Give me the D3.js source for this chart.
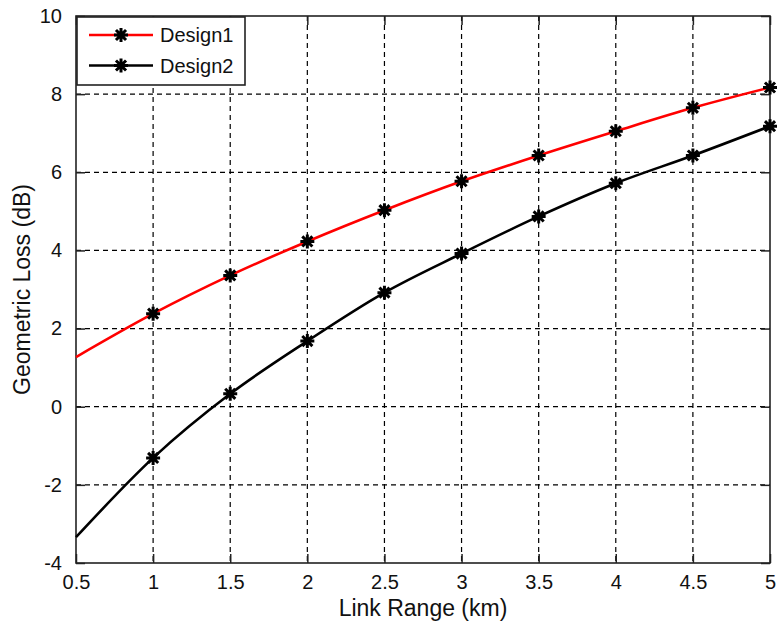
<!DOCTYPE html>
<html>
<head>
<meta charset="utf-8">
<script src="https://cdn.jsdelivr.net/npm/d3@7"></script>
<style>
  html, body { margin: 0; padding: 0; background: #fff; }
  svg { display: block; font-family: "Liberation Sans", Arial, sans-serif; }
</style>
</head>
<body>
<svg id="chart" width="777" height="630"></svg>
<script>
// ---- data ----
const linkRange = [0.5, 1, 1.5, 2, 2.5, 3, 3.5, 4, 4.5, 5];
const design1 = [1.27, 2.38, 3.36, 4.23, 5.03, 5.77, 6.43, 7.05, 7.65, 8.17];
const design2 = [-3.34, -1.31, 0.33, 1.68, 2.92, 3.92, 4.87, 5.72, 6.43, 7.18];
const markerX = [1, 1.5, 2, 2.5, 3, 3.5, 4, 4.5, 5];
const seriesNames = ["Design1", "Design2"];
const xTicks = [0.5, 1, 1.5, 2, 2.5, 3, 3.5, 4, 4.5, 5];
const yTicks = [-4, -2, 0, 2, 4, 6, 8, 10];
const xLabel = "Link Range (km)";
const yLabel = "Geometric Loss (dB)";

const colors = ["#ff0000", "#000000"];
const svg = d3.select("#chart");
const L = 76, R = 770, T = 16, B = 563;
const x = d3.scaleLinear().domain([0.5, 5]).range([L, R]);
const y = d3.scaleLinear().domain([-4, 10]).range([B, T]);

// grid
const g = svg.append("g");
g.selectAll(".vg").data(xTicks.slice(1, -1)).join("line")
  .attr("x1", d => x(d)).attr("x2", d => x(d)).attr("y1", T).attr("y2", B)
  .attr("stroke", "#000").attr("stroke-width", 1.2).attr("stroke-dasharray", "5,4");
g.selectAll(".hg").data(yTicks.slice(1, -1)).join("line")
  .attr("y1", d => y(d)).attr("y2", d => y(d)).attr("x1", L).attr("x2", R)
  .attr("stroke", "#000").attr("stroke-width", 1.2).attr("stroke-dasharray", "5,4");

// axes (ticks inward)
const tick = 9;
const fmt = d => String(d);
svg.append("g").attr("transform", `translate(0,${B})`)
  .call(d3.axisBottom(x).tickValues(xTicks).tickSize(-tick).tickPadding(12).tickFormat(fmt))
  .call(a => a.select(".domain").remove());
svg.append("g").attr("transform", `translate(0,${T})`)
  .call(d3.axisTop(x).tickValues(xTicks).tickSize(-tick).tickFormat(""))
  .call(a => a.select(".domain").remove());
svg.append("g").attr("transform", `translate(${L},0)`)
  .call(d3.axisLeft(y).tickValues(yTicks).tickSize(-tick).tickPadding(14).tickFormat(fmt))
  .call(a => a.select(".domain").remove());
svg.append("g").attr("transform", `translate(${R},0)`)
  .call(d3.axisRight(y).tickValues(yTicks).tickSize(-tick).tickFormat(""))
  .call(a => a.select(".domain").remove());
svg.selectAll(".tick line").attr("stroke", "#222").attr("stroke-width", 1.5);
svg.selectAll(".tick text").attr("font-size", 20).attr("fill", "#111")
  .attr("font-family", "'Liberation Sans', Arial, sans-serif");

// frame
svg.append("rect").attr("x", L).attr("y", T).attr("width", R - L).attr("height", B - T)
  .attr("fill", "none").attr("stroke", "#222").attr("stroke-width", 1.6);

// lines
const line = d3.line().x((d, i) => x(linkRange[i])).y(d => y(d)).curve(d3.curveMonotoneX);
const allSeries = [design1, design2];
const starPath = s => `M${-s},0L${s},0M0,${-s}L0,${s}M${-s*0.72},${-s*0.72}L${s*0.72},${s*0.72}M${-s*0.72},${s*0.72}L${s*0.72},${-s*0.72}`;

allSeries.forEach((vals, k) => {
  svg.append("path").attr("d", line(vals)).attr("fill", "none")
    .attr("stroke", colors[k]).attr("stroke-width", 2.6);
});
allSeries.forEach((vals, k) => {
  const pts = markerX.map(mx => [mx, vals[linkRange.indexOf(mx)]]);
  svg.append("g").selectAll("path").data(pts).join("path")
    .attr("transform", d => `translate(${x(d[0])},${y(d[1])})`)
    .attr("d", starPath(7)).attr("stroke", "#000").attr("stroke-width", 3).attr("fill", "none");
});

// legend
const lg = svg.append("g");
lg.append("rect").attr("x", 77).attr("y", 17).attr("width", 168).attr("height", 68)
  .attr("fill", "#fff").attr("stroke", "#222").attr("stroke-width", 1.6);
seriesNames.forEach((name, k) => {
  const ly = 35 + k * 30.5;
  lg.append("line").attr("x1", 89).attr("x2", 153).attr("y1", ly).attr("y2", ly)
    .attr("stroke", colors[k]).attr("stroke-width", 2.6);
  lg.append("path").attr("transform", `translate(121,${ly})`).attr("d", starPath(7))
    .attr("stroke", "#000").attr("stroke-width", 3).attr("fill", "none");
  lg.append("text").attr("x", 160).attr("y", ly + 7).attr("font-size", 20).attr("fill", "#111")
    .text(name);
});

// axis labels
svg.append("text").attr("x", (L + R) / 2).attr("y", 616).attr("text-anchor", "middle")
  .attr("font-size", 23).attr("fill", "#111").text(xLabel);
svg.append("text").attr("transform", `translate(30,${(T + B) / 2}) rotate(-90)`)
  .attr("text-anchor", "middle").attr("font-size", 23).attr("fill", "#111").text(yLabel);
</script>
</body>
</html>
